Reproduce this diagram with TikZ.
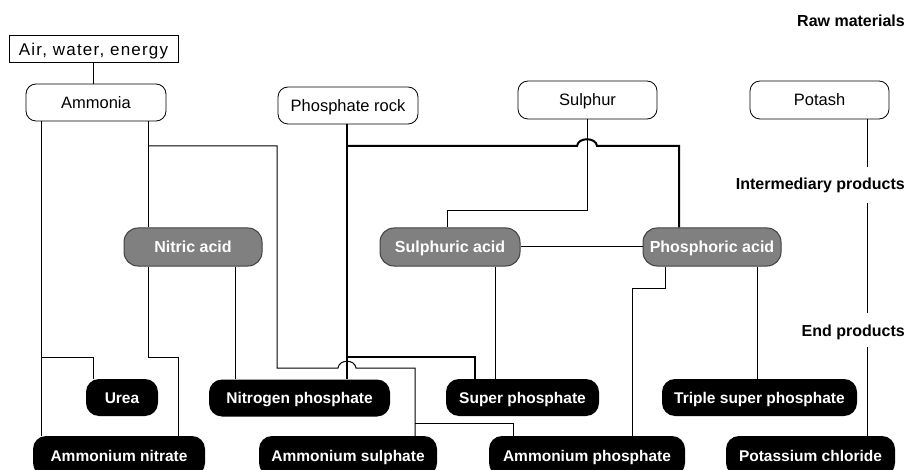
\documentclass[tikz,border=0pt]{standalone}
\usepackage{fontspec}
\setmainfont{Liberation Sans}
\tikzset{
  rawbox/.style={draw, line width=0.8pt, rounded corners=10pt, minimum height=37pt, inner sep=0pt,
    font=\fontsize{16.5}{18}\selectfont, text height=12pt, text depth=0pt},
  interbox/.style={draw=black!75, line width=1pt, fill=black!50, text=white, rounded corners=14pt,
    minimum height=38pt, inner sep=0pt, font=\fontsize{16}{18}\selectfont\bfseries, text height=11.5pt, text depth=0pt},
  endbox/.style={fill=black, text=white, rounded corners=13pt, minimum height=37pt, inner sep=0pt,
    font=\fontsize{15.5}{18}\selectfont\bfseries, text height=11pt, text depth=0pt},
  lbl/.style={anchor=east, inner sep=0pt, font=\fontsize{16}{18}\selectfont\bfseries, text height=11.5pt, text depth=0pt},
  ln/.style={line width=1pt},
  thk/.style={line width=2pt},
}
\begin{document}
\begin{tikzpicture}[x=1pt,y=-1pt]
\useasboundingbox (0,0) rectangle (912,470);
% column / row helper coordinates
\foreach \v in {41,93,148,178,235,277,347,415,447,475,495,513,587,632,665,679,757,867}
  {\coordinate (X\v) at (\v,0);}
\foreach \v in {146,167,203,211,288,313,347,357,368,423}
  {\coordinate (Y\v) at (0,\v);}

% raw materials
\node[draw, line width=0.8pt, minimum width=169pt, minimum height=27pt, inner sep=0pt,
  font=\fontsize{17}{18}\selectfont, text height=12.5pt, text depth=0pt] (air) at (93.5,49)
  {\addfontfeature{LetterSpace=7}Air, water, energy};
\node[rawbox, minimum width=140pt] (ammonia) at (96,102.5) {Ammonia};
\node[rawbox, minimum width=140pt] (phosrock) at (348,105.5) {Phosphate rock};
\node[rawbox, minimum width=139pt, minimum height=38pt] (sulphur) at (587.5,100) {Sulphur};
\node[rawbox, minimum width=139pt, minimum height=38pt] (potash) at (819.5,100) {Potash};

% intermediary products
\node[interbox, minimum width=138pt] (nitric) at (193,247) {Nitric acid};
\node[interbox, minimum width=140pt] (sulphuric) at (450,247) {Sulphuric acid};
\node[interbox, minimum width=138pt] (phosphoric) at (712,247) {Phosphoric acid};

% end products
\node[endbox, minimum width=72pt] (urea) at (122,397.5) {Urea};
\node[endbox, minimum width=181pt] (nitrophos) at (299.5,398) {Nitrogen phosphate};
\node[endbox, minimum width=153pt] (superphos) at (522.5,397.5) {Super phosphate};
\node[endbox, minimum width=195pt] (triple) at (759.5,397.5) {Triple super phosphate};
\node[endbox, minimum width=172pt, minimum height=40pt] (ammnitrate) at (119,456) {Ammonium nitrate};
\node[endbox, minimum width=178pt, minimum height=40pt] (ammsulph) at (348,456) {Ammonium sulphate};
\node[endbox, minimum width=196pt, minimum height=40pt] (ammphos) at (587,456) {Ammonium phosphate};
\node[endbox, minimum width=169pt, minimum height=40pt] (potchl) at (810.5,456) {Potassium chloride};

% side labels
\node[lbl] (lraw) at (905,21) {Raw materials};
\node[lbl] (lint) at (905,184) {Intermediary products};
\node[lbl] (lend) at (905,331) {End products};

% connectors
\draw[ln] (air.south) -- (ammonia.north -| air.south);
% ammonia
\draw[ln] (ammonia.south -| X41) -- (ammnitrate.north -| X41);
\draw[ln] (X41 |- Y357) -| (urea.north -| X93);
\draw[ln] (ammonia.south -| X148) -- (nitric.north -| X148);
\draw[ln] (nitric.south -| X148) |- (X178 |- Y357) -- (ammnitrate.north -| X178);
\draw[ln] (X148 |- Y146) -| (X277 |- Y368) -- (338,368)
   .. controls (339,359) and (355,359) .. (356,368) -- (X415 |- Y368) -- (ammsulph.north -| X415);
\draw[ln] (X415 |- Y423) -| (ammphos.north -| X513);
\draw[ln] (nitric.south -| X235) -- (nitrophos.north -| X235);
% phosphate rock
\draw[thk] (phosrock.south -| X347) -- (nitrophos.north -| X347);
\draw[thk] (X347 |- Y357) -| (superphos.north -| X475);
\draw[thk] (X347 |- Y146) -- (577,146) .. controls (578,137) and (596,137) .. (597,146)
   -- (X679 |- Y146) -- (phosphoric.north -| X679);
% sulphur
\draw[ln] (sulphur.south -| X587) |- (X447 |- Y211) -- (sulphuric.north -| X447);
\draw[ln] (sulphuric.east) -- (phosphoric.west);
\draw[ln] (sulphuric.south -| X495) -- (superphos.north -| X495);
% phosphoric acid
\draw[ln] (phosphoric.south -| X665) |- (X632 |- Y288) -- (ammphos.north -| X632);
\draw[ln] (phosphoric.south -| X757) -- (triple.north -| X757);
% potash
\draw[ln] (potash.south -| X867) -- (X867 |- Y167);
\draw[ln] (X867 |- Y203) -- (X867 |- Y313);
\draw[ln] (X867 |- Y347) -- (potchl.north -| X867);
\end{tikzpicture}
\end{document}
